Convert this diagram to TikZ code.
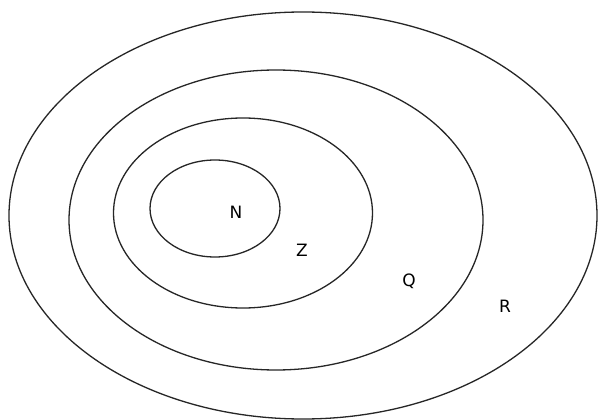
\documentclass[tikz,border=0pt]{standalone}
\usepackage{fontspec}
\setmainfont{DejaVu Sans}
\begin{document}
\begin{tikzpicture}[x=1pt,y=-1pt,
  setline/.style={draw=black!85,line width=1.3pt},
  setlabel/.style={font=\fontsize{17}{19}\selectfont,inner sep=0pt}]
\useasboundingbox[fill=white] (0,0) rectangle (598,420);
\draw[setline] (303,215.5) ellipse [x radius=294,y radius=203.5];
\draw[setline] (276,220) ellipse [x radius=207,y radius=150];
\draw[setline] (243,213) ellipse [x radius=129.5,y radius=95];
\draw[setline] (215,208.5) ellipse [x radius=65,y radius=48.5];
\node[setlabel] (n) at (236,212) {N};
\node[setlabel] (z) at (302,250) {Z};
\node[setlabel] (q) at (409,281) {Q};
\node[setlabel] (r) at (505,306) {R};
\end{tikzpicture}
\end{document}
